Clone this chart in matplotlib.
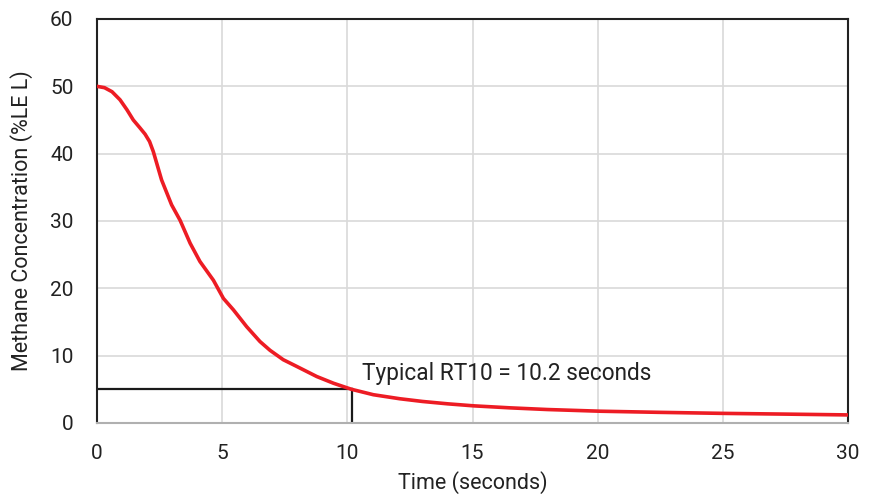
import matplotlib
matplotlib.use("Agg")
import matplotlib.pyplot as plt

# values
time_s = [0, 0.3, 0.6, 0.92, 1.2, 1.45, 1.7, 1.92, 2.1, 2.25, 2.58, 2.98, 3.32,
          3.72, 4.11, 4.65, 5.05, 5.45, 5.98, 6.51, 6.91, 7.44, 7.98, 8.78,
          9.45, 10.17, 11.04, 12.1, 13.0, 14.0, 15.04, 16.5, 18.0, 20.1,
          22.5, 25.0, 27.5, 30.0]
conc = [50.0, 49.8, 49.2, 48.0, 46.5, 45.0, 43.9, 42.9, 41.8, 40.3, 36.1, 32.4,
        30.1, 26.7, 24.0, 21.2, 18.5, 16.8, 14.3, 12.1, 10.8, 9.4, 8.4, 6.9,
        5.9, 5.0, 4.2, 3.6, 3.2, 2.85, 2.55, 2.25, 2.0, 1.75,
        1.58, 1.43, 1.32, 1.2]

rt10 = 10.2
rt10_level = 5.0
note = "Typical RT10 = 10.2 seconds"
x_ticks = [0, 5, 10, 15, 20, 25, 30]
y_ticks = [0, 10, 20, 30, 40, 50, 60]

plt.rcParams['font.family'] = ['Roboto', 'DejaVu Sans']

fig = plt.figure(figsize=(8.77, 4.95), dpi=100)
ax = fig.add_axes([97 / 877, 72 / 495, 751 / 877, 404 / 495])

ax.plot(time_s, conc, color='#ed1c24', lw=2.6, solid_joinstyle='round', zorder=3)

# RT10 marker lines
ax.plot([0, rt10], [rt10_level, rt10_level], color='#1a1a1a', lw=1.6, zorder=2)
ax.plot([rt10, rt10], [0, rt10_level], color='#1a1a1a', lw=1.6, zorder=2)
ax.text(10.6, 7.4, note, fontsize=16.3, color='#222222', va='center', ha='left')

ax.set_xlim(0, 30)
ax.set_ylim(0, 60)
ax.set_xticks(x_ticks)
ax.set_yticks(y_ticks)
ax.grid(True, color='#d9d9d9', lw=1.2)
ax.set_axisbelow(True)
ax.tick_params(length=0, labelsize=15, colors='#222222')
ax.tick_params(axis='x', pad=15)
ax.tick_params(axis='y', pad=17)

for s in ['left', 'top', 'right']:
    ax.spines[s].set_color('#222222')
    ax.spines[s].set_linewidth(1.5)
ax.spines['bottom'].set_color('#b0b0b0')
ax.spines['bottom'].set_linewidth(1.5)

ax.set_xlabel('Time (seconds)', fontsize=15.5, color='#222222')
ax.xaxis.set_label_coords(0.5, -0.12)
ax.set_ylabel('Methane Concentration (%LE L)', fontsize=15.5, color='#222222')
ax.yaxis.set_label_coords(-0.085, 0.5)

fig.savefig('out.png', dpi=100)
